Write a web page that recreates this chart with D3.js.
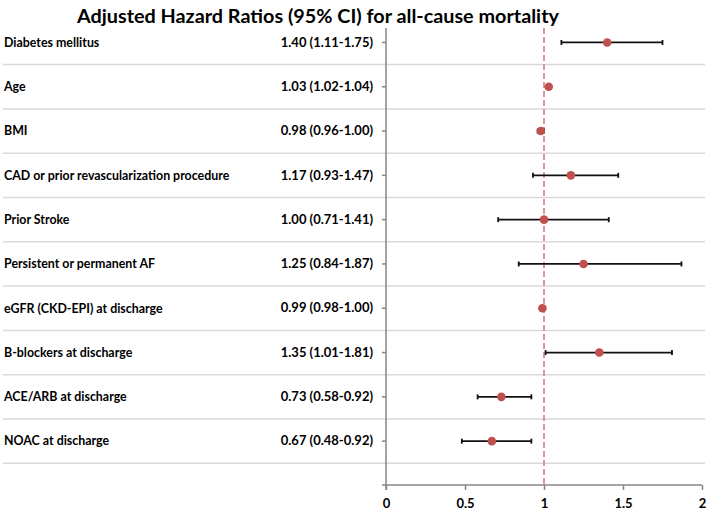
<!DOCTYPE html>
<html>
<head>
<meta charset="utf-8">
<script src="https://cdn.jsdelivr.net/npm/d3@7"></script>
<style>
  html, body { margin: 0; padding: 0; background: #fff; }
  svg { display: block; }
  text { font-family: Lato, "Open Sans", sans-serif; font-weight: bold; fill: #000; }
</style>
</head>
<body>
<svg id="chart" width="708" height="511"></svg>
<script>
// ---- data ----
const categories = [
  "Diabetes mellitus",
  "Age",
  "BMI",
  "CAD or prior revascularization procedure",
  "Prior Stroke",
  "Persistent or permanent AF",
  "eGFR (CKD-EPI) at discharge",
  "B-blockers at discharge",
  "ACE/ARB at discharge",
  "NOAC at discharge"
];
const hazardRatio = [1.40, 1.03, 0.98, 1.17, 1.00, 1.25, 0.99, 1.35, 0.73, 0.67];
const ciLower     = [1.11, 1.02, 0.96, 0.93, 0.71, 0.84, 0.98, 1.01, 0.58, 0.48];
const ciUpper     = [1.75, 1.04, 1.00, 1.47, 1.41, 1.87, 1.00, 1.81, 0.92, 0.92];
const xTicks = [0, 0.5, 1, 1.5, 2];
const title = "Adjusted Hazard Ratios (95% CI) for all-cause mortality";
const referenceValue = 1;

const rows = categories.map((c, i) => ({
  cat: c, hr: hazardRatio[i], lo: ciLower[i], hi: ciUpper[i],
  label: hazardRatio[i].toFixed(2) + " (" + ciLower[i].toFixed(2) + "-" + ciUpper[i].toFixed(2) + ")"
}));

const svg = d3.select("#chart");
const axisX0 = 386, axisX1 = 702, axisY = 485, plotTop = 28;

const x = d3.scaleLinear().domain([0, 2]).range([axisX0, axisX1]);
const y = d3.scaleBand().domain(categories).range([20.3, 463.3]).padding(0);
const cy = c => y(c) + y.bandwidth() / 2;

// title
const t = svg.append("text")
  .attr("x", 318).attr("y", 23)
  .attr("text-anchor", "middle")
  .style("font-size", "21px")
  .text(title);
const tw = t.node().getComputedTextLength();
t.style("font-size", (21 * 482 / tw).toFixed(2) + "px");

// gridlines (row separators)
svg.append("g").selectAll("line")
  .data(categories)
  .join("line")
  .attr("x1", 3).attr("x2", 705)
  .attr("y1", d => y(d) + y.step())
  .attr("y2", d => y(d) + y.step())
  .attr("stroke", "#d9d9d9").attr("stroke-width", 1.5);

// reference dashed line
svg.append("line")
  .attr("x1", x(referenceValue)).attr("x2", x(referenceValue))
  .attr("y1", plotTop).attr("y2", axisY)
  .attr("stroke", "#d99694").attr("stroke-width", 2)
  .attr("stroke-dasharray", "6,3");

// x axis
const xAxis = d3.axisBottom(x)
  .tickValues(xTicks)
  .tickFormat(d3.format(""))
  .tickSize(5).tickPadding(9);
const gx = svg.append("g").attr("transform", `translate(0,${axisY})`).call(xAxis);
gx.select(".domain").remove();
gx.selectAll(".tick line").attr("stroke", "#868686").attr("stroke-width", 1.5);
gx.selectAll(".tick text").style("font-size", "13px").style("font-family", "Lato, sans-serif").style("font-weight", "bold").attr("fill", "#000");
svg.append("line")
  .attr("x1", axisX0 - 4).attr("x2", axisX1)
  .attr("y1", axisY).attr("y2", axisY)
  .attr("stroke", "#868686").attr("stroke-width", 1.5);

// y axis (value labels as tick labels)
const labelMap = new Map(rows.map(r => [r.cat, r.label]));
const yAxis = d3.axisLeft(y)
  .tickFormat(d => labelMap.get(d))
  .tickSize(4).tickPadding(9);
const gy = svg.append("g").attr("transform", `translate(${axisX0},0)`).call(yAxis);
gy.select(".domain").remove();
gy.selectAll(".tick line").attr("stroke", "#868686").attr("stroke-width", 1.5);
gy.selectAll(".tick text").style("font-size", "13px").style("font-family", "Lato, sans-serif").style("font-weight", "bold").attr("fill", "#000");
svg.append("line")
  .attr("x1", axisX0).attr("x2", axisX0)
  .attr("y1", plotTop).attr("y2", axisY + 5)
  .attr("stroke", "#868686").attr("stroke-width", 1.5);

// category labels on the left
svg.append("g").selectAll("text")
  .data(rows)
  .join("text")
  .attr("x", 4)
  .attr("y", d => cy(d.cat))
  .attr("dy", "0.35em")
  .style("font-size", "12.4px")
  .text(d => d.cat);

// error bars
const eb = svg.append("g").selectAll("g")
  .data(rows)
  .join("g")
  .attr("stroke", "#111").attr("stroke-width", 1.8);
eb.append("line")
  .attr("x1", d => x(d.lo)).attr("x2", d => x(d.hi))
  .attr("y1", d => cy(d.cat)).attr("y2", d => cy(d.cat));
eb.append("line")
  .attr("x1", d => x(d.lo)).attr("x2", d => x(d.lo))
  .attr("y1", d => cy(d.cat) - 2.5).attr("y2", d => cy(d.cat) + 2.5);
eb.append("line")
  .attr("x1", d => x(d.hi)).attr("x2", d => x(d.hi))
  .attr("y1", d => cy(d.cat) - 2.5).attr("y2", d => cy(d.cat) + 2.5);

// points
svg.append("g").selectAll("circle")
  .data(rows)
  .join("circle")
  .attr("cx", d => x(d.hr))
  .attr("cy", d => cy(d.cat))
  .attr("r", 4.3)
  .attr("fill", "#c0504d");
</script>
</body>
</html>
